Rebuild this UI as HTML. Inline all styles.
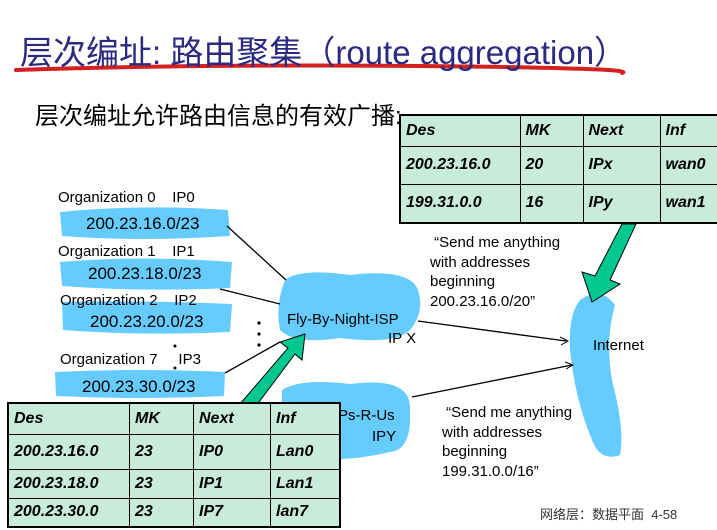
<!DOCTYPE html>
<html><head><meta charset="utf-8"><style>
body{margin:0;width:717px;height:530px;background:#fff;position:relative;overflow:hidden;font-family:"Liberation Sans","Noto Sans CJK SC",sans-serif}
.a{position:absolute;white-space:nowrap}
table{position:absolute;border-collapse:collapse;background:#c8ebdc;font-style:italic;font-weight:bold;font-size:16px;font-family:"Liberation Sans",sans-serif}
td{border:1px solid #000;padding:0 0 0 5px;white-space:nowrap}
</style></head><body>
<svg width="717" height="530" style="position:absolute;left:0;top:0">
<path d="M16,70 Q200,64 420,66 T622,73" stroke="#d42020" stroke-width="4" fill="none" stroke-linecap="round"/>
<g fill="#66ccff">
<path d="M60,212 Q140,204 228,210 L230,236 Q140,242 62,236 Z"/>
<path d="M60,262 Q140,255 232,262 L230,288 Q140,292 62,286 Z"/>
<path d="M62,302 Q140,300 232,304 L230,332 Q140,336 63,330 Z"/>
<path d="M55,372 Q140,368 225,372 L224,396 Q140,400 56,396 Z"/>
<path d="M285,280 Q300,268 350,275 Q410,268 418,290 Q425,312 410,330 Q395,345 340,338 Q295,345 280,330 Q275,305 285,280 Z"/>
<path d="M282,390 Q300,378 350,384 Q412,376 410,410 Q412,450 390,452 Q350,462 305,458 Q278,455 282,420 Z"/>
<path d="M580,300 Q600,285 615,305 Q605,340 612,380 Q625,430 620,455 Q600,462 592,440 Q575,400 570,350 Q568,315 580,300 Z"/>
</g>
<g stroke="#000" stroke-width="1.3" fill="none">
<line x1="227" y1="226" x2="286" y2="280"/>
<line x1="220" y1="289" x2="280" y2="304"/>
<line x1="225" y1="373" x2="280" y2="342"/>
<line x1="418" y1="321" x2="566" y2="341"/>
<line x1="412" y1="397" x2="572" y2="365"/>
</g>
<path d="M560,337 L568,341 L561,345" stroke="#000" fill="none"/>
<path d="M565,362 L573,365 L566,369" stroke="#000" fill="none"/>
<g fill="#00c890" stroke="#000" stroke-width="1">
<path d="M240,404 L288,348 L280,342 L305,334 L302,360 L295,354 L250,414 Z"/>
<path d="M622,224 L636,224 L610,280 L620,284 L592,302 L582,272 L595,276 Z"/>
</g>
<g fill="#000"><circle cx="259" cy="323" r="1.6"/><circle cx="259" cy="334" r="1.6"/><circle cx="259" cy="345" r="1.6"/><circle cx="175" cy="346" r="1.5"/><circle cx="175" cy="368" r="1.5"/></g>
</svg>
<div class="a" style="left:20px;top:26px;font-size:33px;color:#2a2a80">层次编址: 路由聚集（<span style="font-family:'Liberation Sans',sans-serif">route aggregation</span>）</div>
<div class="a" style="left:35px;top:96px;font-size:24px;color:#000">层次编址允许路由信息的有效广播:</div>
<div class="a" style="left:58px;top:189px;font-size:15px">Organization 0 &nbsp;&nbsp;&nbsp;IP0</div>
<div class="a" style="left:86px;top:214px;font-size:17px">200.23.16.0/23</div>
<div class="a" style="left:58px;top:243px;font-size:15px">Organization 1 &nbsp;&nbsp;&nbsp;IP1</div>
<div class="a" style="left:88px;top:264px;font-size:17px">200.23.18.0/23</div>
<div class="a" style="left:60px;top:292px;font-size:15px">Organization 2 &nbsp;&nbsp;&nbsp;IP2</div>
<div class="a" style="left:90px;top:312px;font-size:17px">200.23.20.0/23</div>
<div class="a" style="left:60px;top:351px;font-size:15px">Organization 7 &nbsp;&nbsp;&nbsp;&nbsp;IP3</div>
<div class="a" style="left:82px;top:377px;font-size:17px">200.23.30.0/23</div>
<div class="a" style="left:287px;top:311px;font-size:15px">Fly-By-Night-ISP</div>
<div class="a" style="left:388px;top:330px;font-size:15px">IP X</div>
<div class="a" style="left:338px;top:407px;font-size:15px">Ps-R-Us</div>
<div class="a" style="left:372px;top:428px;font-size:15px">IPY</div>
<div class="a" style="left:593px;top:337px;font-size:15px">Internet</div>
<div class="a" style="left:430px;top:233px;font-size:15px;line-height:19.5px">&nbsp;“Send me anything<br>with addresses<br>beginning<br>200.23.16.0/20”</div>
<div class="a" style="left:442px;top:403px;font-size:15px;line-height:19.5px">&nbsp;“Send me anything<br>with addresses<br>beginning<br>199.31.0.0/16”</div>
<div class="a" style="left:540px;top:504px;font-size:13px;color:#333">网络层：数据平面 &nbsp;4-58</div>
<table style="left:399px;top:114px;border:2px solid #000;table-layout:fixed;width:340px">
<colgroup><col style="width:120px"><col style="width:63px"><col style="width:77px"><col style="width:80px"></colgroup>
<tr style="height:31px"><td>Des</td><td>MK</td><td>Next</td><td>Inf</td></tr>
<tr style="height:38px"><td>200.23.16.0</td><td>20</td><td>IPx</td><td>wan0</td></tr>
<tr style="height:39px"><td>199.31.0.0</td><td>16</td><td>IPy</td><td>wan1</td></tr>
</table>
<table style="left:7px;top:402px;border:2px solid #000">
<tr style="height:31px"><td style="width:115px">Des</td><td style="width:58px">MK</td><td style="width:71px">Next</td><td style="width:63px">Inf</td></tr>
<tr style="height:35px"><td>200.23.16.0</td><td>23</td><td>IP0</td><td>Lan0</td></tr>
<tr style="height:29px"><td>200.23.18.0</td><td>23</td><td>IP1</td><td>Lan1</td></tr>
<tr style="height:29px"><td>200.23.30.0</td><td>23</td><td>IP7</td><td>lan7</td></tr>
</table>
</body></html>
